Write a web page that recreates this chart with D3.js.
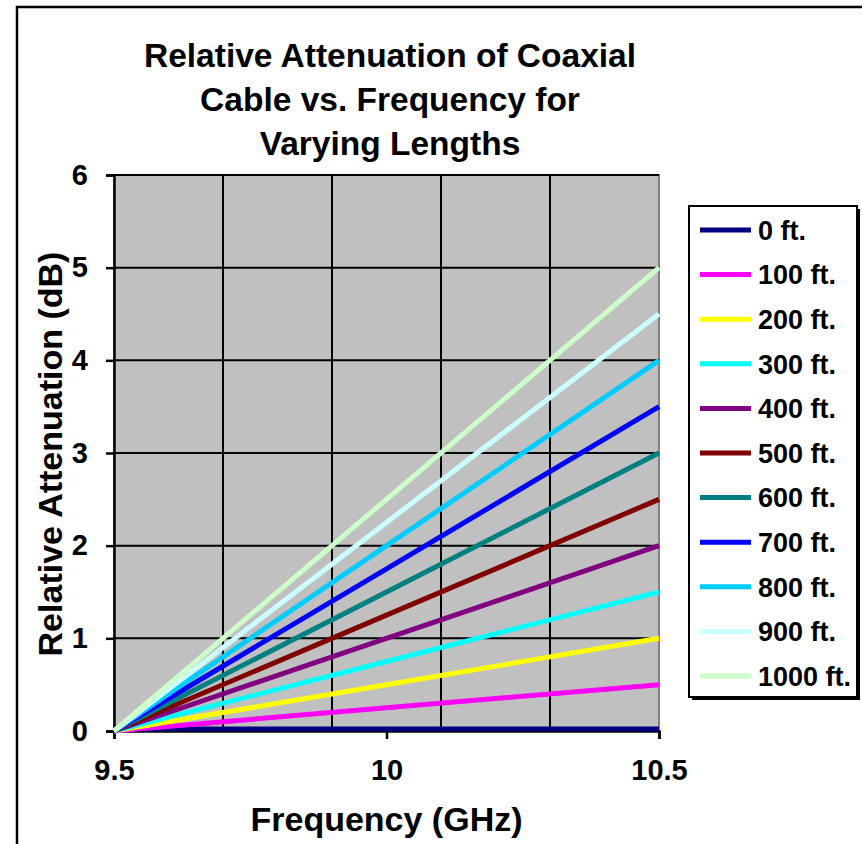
<!DOCTYPE html>
<html>
<head>
<meta charset="utf-8">
<script src="https://cdn.jsdelivr.net/npm/d3@7"></script>
<style>
  body { margin: 0; background: #fff; }
  svg text { font-family: "Liberation Sans", Arial, sans-serif; font-weight: bold; fill: #000; }
</style>
</head>
<body>
<div id="chart"></div>
<script>
// Chart data
var frequencies = [9.5, 10.0, 10.5];
var seriesNames = ["0 ft.", "100 ft.", "200 ft.", "300 ft.", "400 ft.", "500 ft.",
                   "600 ft.", "700 ft.", "800 ft.", "900 ft.", "1000 ft."];
var seriesValues = [
  [0, 0, 0],
  [0, 0.25, 0.5],
  [0, 0.5, 1.0],
  [0, 0.75, 1.5],
  [0, 1.0, 2.0],
  [0, 1.25, 2.5],
  [0, 1.5, 3.0],
  [0, 1.75, 3.5],
  [0, 2.0, 4.0],
  [0, 2.25, 4.5],
  [0, 2.5, 5.0]
];
var seriesColors = ["#000080", "#FF00FF", "#FFFF00", "#00FFFF", "#800080", "#800000",
                    "#008080", "#0000FF", "#00CCFF", "#CCFFFF", "#CCFFCC"];
var xTicks = [9.5, 10, 10.5];
var xGrid = [9.7, 9.9, 10.1, 10.3];
var yTicks = [0, 1, 2, 3, 4, 5, 6];
var titleLines = ["Relative Attenuation of Coaxial", "Cable vs. Frequency for", "Varying Lengths"];

// SVG area
var svgWidth = 862;
var svgHeight = 844;

var chartMargin = { top: 175, right: 203, bottom: 113, left: 114 };
var chartWidth = svgWidth - chartMargin.left - chartMargin.right;
var chartHeight = svgHeight - chartMargin.top - chartMargin.bottom;

var svg = d3.select("#chart")
  .append("svg")
  .attr("width", svgWidth)
  .attr("height", svgHeight);

// outer frame (runs off the right and bottom edges)
svg.append("rect")
  .attr("x", 17).attr("y", 7)
  .attr("width", 900).attr("height", 900)
  .attr("fill", "#fff")
  .attr("stroke", "#000")
  .attr("stroke-width", 2.5);

// title
svg.append("g").selectAll("text")
  .data(titleLines)
  .enter()
  .append("text")
  .attr("x", 390)
  .attr("y", (d, i) => 67 + i * 44)
  .attr("text-anchor", "middle")
  .style("font-size", "33.5px")
  .text(d => d);

var chartGroup = svg.append("g")
  .attr("transform", `translate(${chartMargin.left}, ${chartMargin.top})`);

var xScale = d3.scaleLinear()
  .domain([9.5, 10.5])
  .range([0, chartWidth]);

var yScale = d3.scaleLinear()
  .domain([0, 6])
  .range([chartHeight, 0]);

// plot area
chartGroup.append("rect")
  .attr("width", chartWidth)
  .attr("height", chartHeight)
  .attr("fill", "#C0C0C0")
  .attr("stroke", "#808080")
  .attr("stroke-width", 2);

// gridlines
chartGroup.append("g")
  .selectAll("line")
  .data(yTicks.slice(1))
  .enter()
  .append("line")
  .attr("x1", 0).attr("x2", chartWidth)
  .attr("y1", d => yScale(d)).attr("y2", d => yScale(d))
  .attr("stroke", "#000")
  .attr("stroke-width", 2);

chartGroup.append("g")
  .selectAll("line")
  .data(xGrid)
  .enter()
  .append("line")
  .attr("x1", d => xScale(d)).attr("x2", d => xScale(d))
  .attr("y1", 0).attr("y2", chartHeight)
  .attr("stroke", "#000")
  .attr("stroke-width", 2);

// axes
var leftAxis = d3.axisLeft(yScale).tickValues(yTicks).tickSize(8).tickPadding(18)
  .tickFormat(d3.format("d"));
var bottomAxis = d3.axisBottom(xScale).tickValues(xTicks).tickSize(8).tickPadding(16)
  .tickFormat(d3.format("~g"));

var yAxisG = chartGroup.append("g").call(leftAxis);
var xAxisG = chartGroup.append("g")
  .attr("transform", `translate(0,${chartHeight})`)
  .call(bottomAxis);

[yAxisG, xAxisG].forEach(function(g) {
  g.select(".domain").attr("stroke", "#000").attr("stroke-width", 2.5);
  g.selectAll(".tick line").attr("stroke", "#000").attr("stroke-width", 2.5);
  g.selectAll(".tick text")
    .attr("fill", "#000")
    .style("font-family", "'Liberation Sans', Arial, sans-serif")
    .style("font-weight", "bold")
    .style("font-size", "29px");
});
xAxisG.selectAll(".tick text").attr("dy", "0.85em");

// series lines
var line = d3.line()
  .x((d, i) => xScale(frequencies[i]))
  .y(d => yScale(d));

chartGroup.append("g")
  .selectAll("path")
  .data(seriesValues)
  .enter()
  .append("path")
  .attr("d", d => line(d))
  .attr("fill", "none")
  .attr("stroke", (d, i) => seriesColors[i])
  .attr("stroke-width", 5)
  .attr("transform", (d, i) => i === 0 ? "translate(0,-2)" : null);

// axis titles
chartGroup.append("text")
  .attr("x", chartWidth / 2)
  .attr("y", chartHeight + 100)
  .attr("text-anchor", "middle")
  .style("font-size", "34px")
  .text("Frequency (GHz)");

chartGroup.append("text")
  .attr("transform", "rotate(-90)")
  .attr("x", -(454 - chartMargin.top))
  .attr("y", -52)
  .attr("text-anchor", "middle")
  .style("font-size", "34px")
  .text("Relative Attenuation (dB)");

// legend
var legend = svg.append("g").attr("transform", "translate(689,206)");
legend.append("rect")
  .attr("x", 3).attr("y", 3)
  .attr("width", 168).attr("height", 491)
  .attr("fill", "#000");
legend.append("rect")
  .attr("width", 168).attr("height", 491)
  .attr("fill", "#fff")
  .attr("stroke", "#000")
  .attr("stroke-width", 2);

var rows = legend.selectAll("g.row")
  .data(seriesNames)
  .enter()
  .append("g")
  .attr("class", "row")
  .attr("transform", (d, i) => `translate(0,${24 + i * 44.6})`);

rows.append("line")
  .attr("x1", 11).attr("x2", 62)
  .attr("stroke", (d, i) => seriesColors[i])
  .attr("stroke-width", 5);

rows.append("text")
  .attr("x", 69)
  .attr("dy", "0.36em")
  .style("font-size", "27px")
  .text(d => d);
</script>
</body>
</html>
